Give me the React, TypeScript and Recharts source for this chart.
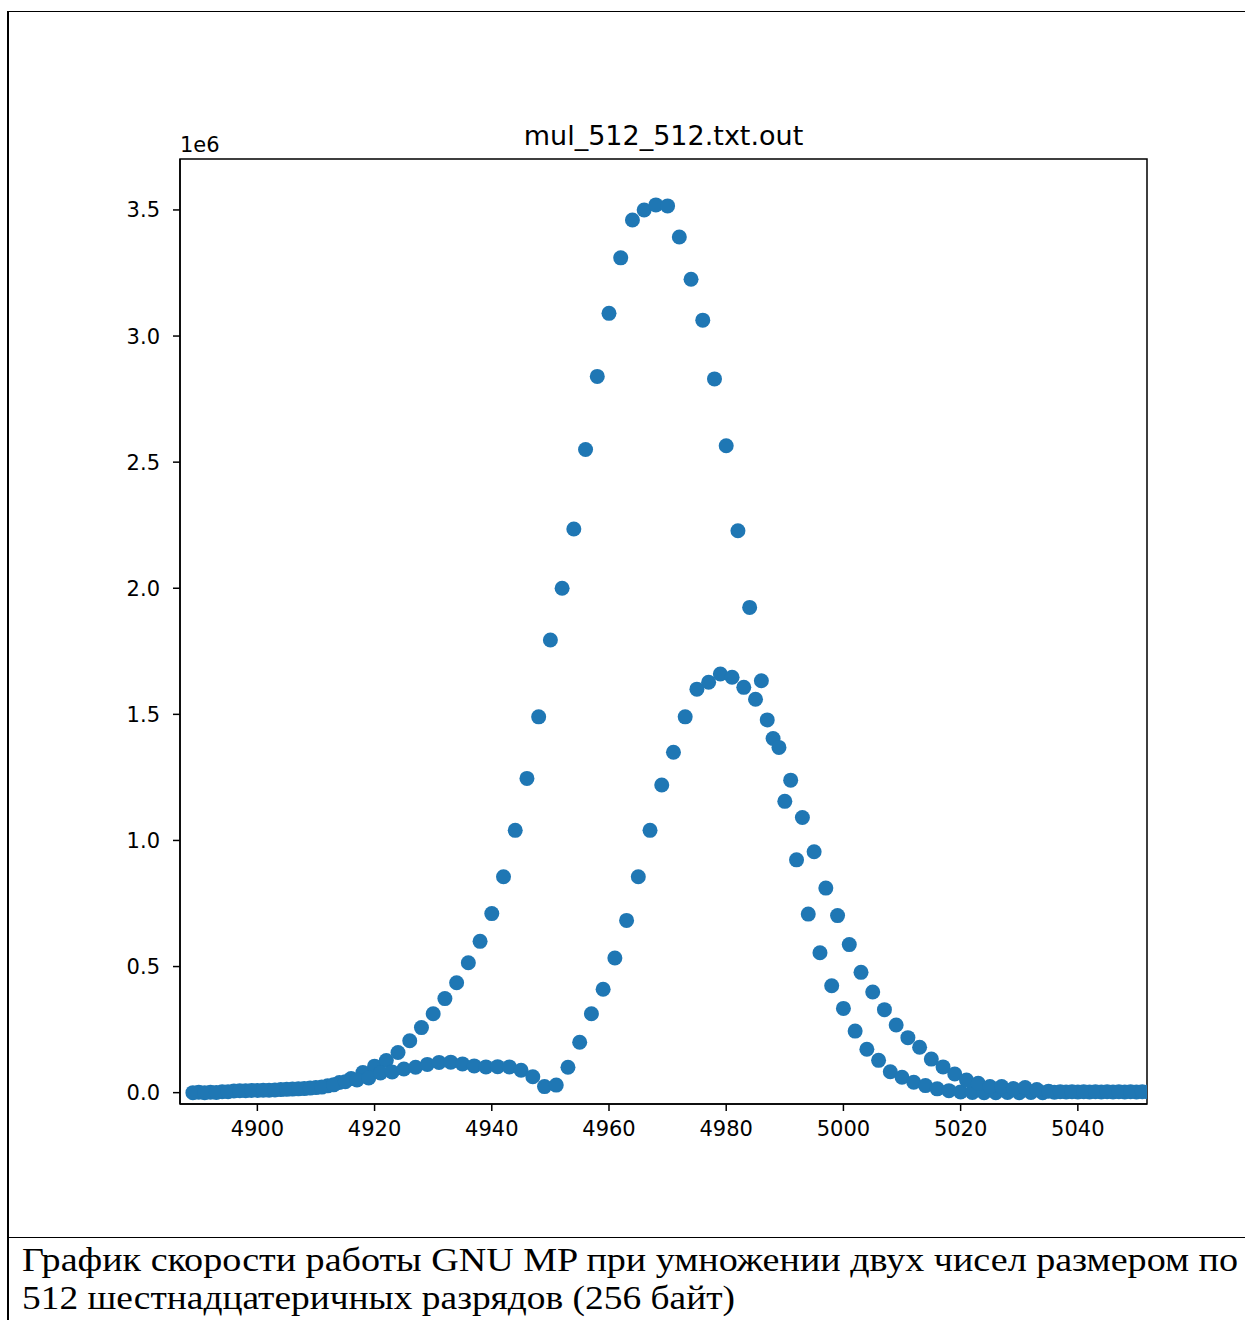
import { ScatterChart, Scatter, XAxis, YAxis, ReferenceArea } from 'recharts';

// x positions: even bins start at 4890, odd bins at 4889 (both step 2)
const evenStart = 4890;
const oddStart = 4889;

// counts (y values, raw units)
const evenCounts = [
  2000, 2000, 4000, 7000, 8000, 9000, 10000, 12000, 14000, 16000,
  20000, 27000, 40000, 56000, 80000, 105000, 127000, 159000, 206000, 258000,
  313000, 373000, 436000, 515000, 600000, 710000, 856000, 1040000, 1246000, 1490000,
  1795000, 2000000, 2235000, 2550000, 2840000, 3090000, 3310000, 3460000, 3500000, 3520000,
  3516000, 3393000, 3225000, 3063000, 2830000, 2565000, 2228000, 1924000, 1633000, 1404000,
  1155000, 923000, 708000, 555000, 424000, 334000, 244000, 172000, 128000, 83000,
  61000, 41000, 28000, 15000, 8000, 3000, 1000, 0, 0, 1000,
  0, 1000, 0, 2000, 3000, 3000, 3000, 3000, 3000, 3000,
  3000, 3000,
];

const oddCounts = [
  0, 0, 1000, 4000, 8000, 9000, 10000, 11000, 13000, 15000,
  18000, 22000, 31000, 43000, 50000, 58000, 78000, 82000, 94000, 101000,
  112000, 120000, 121000, 114000, 106000, 102000, 103000, 102000, 89000, 63000,
  24000, 30000, 101000, 200000, 313000, 410000, 534000, 683000, 856000, 1040000,
  1220000, 1350000, 1490000, 1600000, 1627000, 1660000, 1647000, 1607000, 1560000, 1478000,
  1369000, 1239000, 1091000, 955000, 811000, 702000, 587000, 477000, 399000, 329000,
  268000, 218000, 180000, 133000, 102000, 74000, 50000, 37000, 24000, 24000,
  16000, 20000, 12000, 6000, 4000, 4000, 4000, 4000, 4000, 4000,
  4000, 4000,
];

const xTicks = [4900, 4920, 4940, 4960, 4980, 5000, 5020, 5040];
const yTicks = [0, 500000, 1000000, 1500000, 2000000, 2500000, 3000000, 3500000];

const title = 'mul_512_512.txt.out';
const captionLine1 = 'График скорости работы GNU MP при умножении двух чисел размером по';
const captionLine2 = '512 шестнадцатеричных разрядов (256 байт)';

const xDomain = [4886.8, 5051.8];
const yDomain = [-45000, 3702000];

const points = [
  ...evenCounts.map((y, i) => ({ x: evenStart + i * 2, y })),
  ...oddCounts.map((y, i) => ({ x: oddStart + i * 2, y })),
];

const dotColor = '#1f77b4';
const font = '"DejaVu Sans", sans-serif';
const serif = '"Liberation Serif", "Times New Roman", serif';

const Dot = (props: any) => <circle cx={props.cx} cy={props.cy} r={7.5} fill={dotColor} />;

export default function App() {
  return (
    <div style={{ position: 'absolute', left: 0, top: 0, width: 1245, height: 1320, overflow: 'hidden', background: '#fff' }}>
      <ScatterChart
        width={1245}
        height={1320}
        margin={{ top: 159, right: 98, bottom: 176, left: 100 }}
        style={{ position: 'absolute', left: 0, top: 0 }}
      >
        <XAxis
          type="number"
          dataKey="x"
          domain={xDomain}
          allowDataOverflow
          ticks={xTicks}
          height={40}
          tickSize={7}
          tickMargin={10}
          axisLine={{ stroke: '#000', strokeWidth: 1.5 }}
          tickLine={{ stroke: '#000', strokeWidth: 1.5 }}
          tick={{ fill: '#000', fontSize: 21, fontFamily: font }}
        />
        <YAxis
          type="number"
          dataKey="y"
          domain={yDomain}
          allowDataOverflow
          ticks={yTicks}
          width={80}
          tickSize={7}
          tickMargin={13}
          tickFormatter={(v: number) => (v / 1e6).toFixed(1)}
          axisLine={{ stroke: '#000', strokeWidth: 1.5 }}
          tickLine={{ stroke: '#000', strokeWidth: 1.5 }}
          tick={{ fill: '#000', fontSize: 21, fontFamily: font }}
        />
        <Scatter data={points} shape={Dot} isAnimationActive={false} />
        <ReferenceArea
          x1={xDomain[0]}
          x2={xDomain[1]}
          y1={yDomain[0]}
          y2={yDomain[1]}
          fill="none"
          stroke="#000"
          strokeWidth={1.5}
          ifOverflow="visible"
        />
      </ScatterChart>
      <svg width={1245} height={1320} style={{ position: 'absolute', left: 0, top: 0, pointerEvents: 'none' }}>
        <line x1={8} y1={11.5} x2={1245} y2={11.5} stroke="#000" strokeWidth={1.2} />
        <line x1={8} y1={11} x2={8} y2={1320} stroke="#000" strokeWidth={2} />
        <line x1={8} y1={1237.5} x2={1245} y2={1237.5} stroke="#000" strokeWidth={1.2} />
        <text x={663.5} y={145} textAnchor="middle" fontFamily={font} fontSize={27} fill="#000">
          {title}
        </text>
        <text x={180} y={152} fontFamily={font} fontSize={21} fill="#000">
          1e6
        </text>
        <text x={22} y={1271} fontFamily={serif} fontSize={33} fill="#000" textLength={1216} lengthAdjust="spacingAndGlyphs">
          {captionLine1}
        </text>
        <text x={22} y={1309} fontFamily={serif} fontSize={33} fill="#000" textLength={713} lengthAdjust="spacingAndGlyphs">
          {captionLine2}
        </text>
      </svg>
    </div>
  );
}
